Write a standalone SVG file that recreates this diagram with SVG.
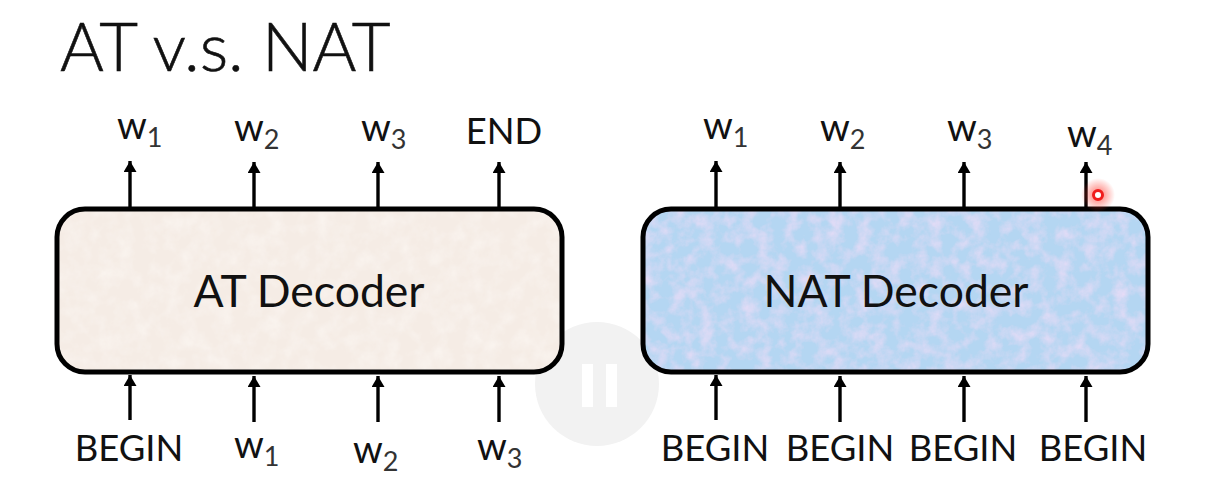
<svg xmlns="http://www.w3.org/2000/svg" width="1206" height="489" viewBox="0 0 1206 489">
<style>
text{font-family:"Lato","Open Sans","Liberation Sans",sans-serif;fill:#111}
.t{font-size:36.4px;text-anchor:middle}
.w{font-size:38px}
.s{font-size:27px;fill:#333}
.d{font-size:44.5px;text-anchor:middle}
.c{stroke:#000;stroke-width:3.4;fill:none;marker-end:url(#a)}
.b{stroke:#000;stroke-width:5}
</style>
<defs>
<marker id="a" markerUnits="userSpaceOnUse" markerWidth="14" markerHeight="14" refX="11" refY="6.5" orient="auto"><path d="M0 0L11 6.5L0 13Z" fill="#000"/></marker>
<filter id="nb" x="0" y="0" width="100%" height="100%"><feTurbulence type="fractalNoise" baseFrequency="0.07" numOctaves="4" seed="4"/><feColorMatrix values="0 0 0 0 0.85  0 0 0 0 0.72  0 0 0 0 0.93  1.5 0 0 0 -0.58"/><feComposite in2="SourceGraphic" operator="in" result="n"/><feMerge><feMergeNode in="SourceGraphic"/><feMergeNode in="n"/></feMerge></filter>
<filter id="nt" x="0" y="0" width="100%" height="100%"><feTurbulence type="fractalNoise" baseFrequency="0.06" numOctaves="4" seed="9"/><feColorMatrix values="0 0 0 0 0.97  0 0 0 0 0.93  0 0 0 0 0.89  1.4 0 0 0 -0.55"/><feComposite in2="SourceGraphic" operator="in" result="n"/><feMerge><feMergeNode in="SourceGraphic"/><feMergeNode in="n"/></feMerge></filter>
<radialGradient id="g"><stop offset="0.3" stop-color="#ff3b30" stop-opacity="0.5"/><stop offset="1" stop-color="#ff3b30" stop-opacity="0"/></radialGradient>
</defs>
<rect width="1206" height="489" fill="#fff"/>
<text id="title" x="60" y="71" font-size="67" font-weight="300" stroke="#111" stroke-width="0.6">AT v.s. NAT</text>
<g id="pause"><circle cx="597" cy="384" r="62" fill="#f2f2f2"/><rect x="582" y="364" width="11" height="43" fill="#fff"/><rect x="606" y="364" width="11" height="43" fill="#fff"/></g>
<g id="at-decoder"><rect x="57" y="209" width="505" height="163" rx="28" fill="#f5ece5" filter="url(#nt)"/><rect class="b" x="57" y="209" width="505" height="163" rx="28" fill="none"/><text class="d" x="309" y="307">AT Decoder</text></g>
<g id="nat-decoder"><rect x="643" y="209" width="505" height="163" rx="28" fill="#b4d6f2" filter="url(#nb)"/><rect class="b" x="643" y="209" width="505" height="163" rx="28" fill="none"/><text class="d" x="896" y="307">NAT Decoder</text></g>
<g id="connectors">
<path class="c" d="M130 207V161"/><path class="c" d="M254 207V162"/><path class="c" d="M378 207V162"/><path class="c" d="M499 207V162"/>
<path class="c" d="M716 207V161"/><path class="c" d="M840 207V162"/><path class="c" d="M964 207V162"/><path class="c" d="M1086 207V162"/>
<path class="c" d="M130 420V375"/><path class="c" d="M254 422V376"/><path class="c" d="M378 422V376"/><path class="c" d="M499 422V376"/>
<path class="c" d="M716 420V375"/><path class="c" d="M840 422V376"/><path class="c" d="M964 422V376"/><path class="c" d="M1086 422V376"/>
</g>
<g id="at-outputs">
<text x="117" y="139" class="w">w<tspan class="s" dy="8">1</tspan></text>
<text x="234" y="141" class="w">w<tspan class="s" dy="8">2</tspan></text>
<text x="361" y="141" class="w">w<tspan class="s" dy="8">3</tspan></text>
<text x="504" y="144" class="t">END</text>
</g>
<g id="nat-outputs">
<text x="703" y="139" class="w">w<tspan class="s" dy="8">1</tspan></text>
<text x="820" y="141" class="w">w<tspan class="s" dy="8">2</tspan></text>
<text x="947" y="141" class="w">w<tspan class="s" dy="8">3</tspan></text>
<text x="1067" y="147" class="w">w<tspan class="s" dy="8">4</tspan></text>
</g>
<g id="at-inputs">
<text x="129" y="461" class="t">BEGIN</text>
<text x="234" y="458" class="w">w<tspan class="s" dy="8">1</tspan></text>
<text x="353" y="463" class="w">w<tspan class="s" dy="8">2</tspan></text>
<text x="477" y="460" class="w">w<tspan class="s" dy="8">3</tspan></text>
</g>
<g id="nat-inputs">
<text x="715" y="461" class="t">BEGIN</text><text x="840" y="461" class="t">BEGIN</text><text x="963" y="461" class="t">BEGIN</text><text x="1093" y="461" class="t">BEGIN</text>
</g>
<g id="cursor"><circle cx="1098" cy="195" r="17" fill="url(#g)"/><circle cx="1098" cy="195" r="4.5" fill="#fff" stroke="#f01c1c" stroke-width="3"/></g>
</svg>
